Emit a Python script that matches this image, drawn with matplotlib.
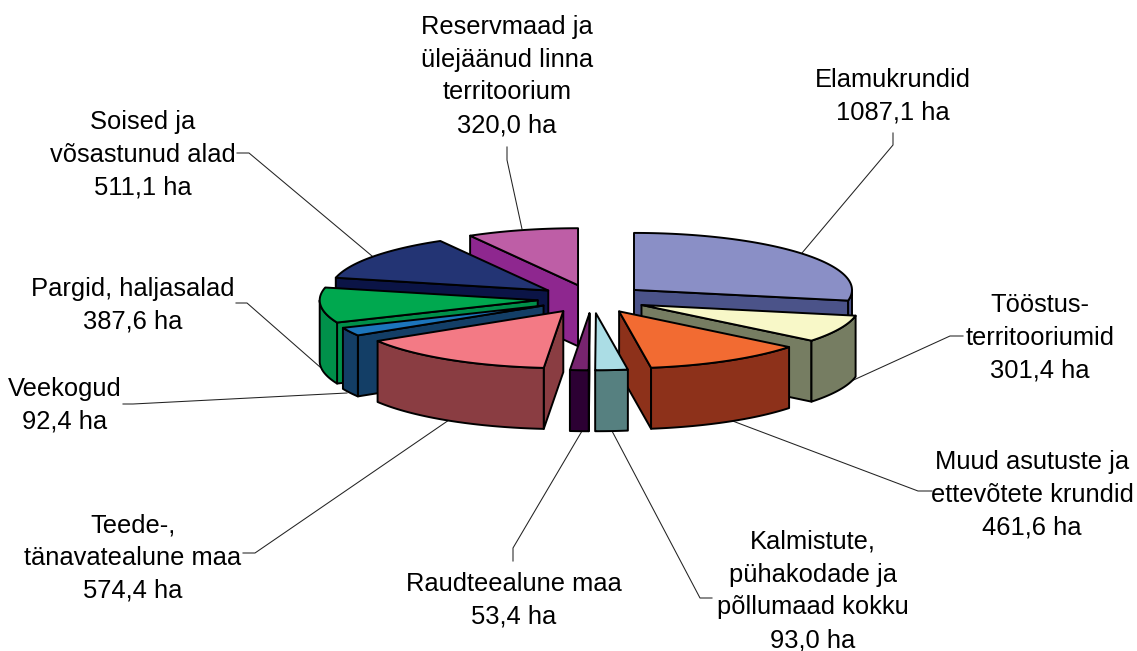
import numpy as np
import matplotlib
matplotlib.use('Agg')
import matplotlib.pyplot as plt
from matplotlib.patches import Polygon

plt.rcParams['font.family'] = ['Liberation Sans', 'DejaVu Sans']

# andmed (ha)
names = ['Elamukrundid', 'Tööstus-\nterritooriumid', 'Muud asutuste ja\nettevõtete krundid',
         'Kalmistute,\npühakodade ja\npõllumaad kokku', 'Raudteealune maa',
         'Teede-,\ntänavatealune maa', 'Veekogud', 'Pargid, haljasalad',
         'Soised ja\nvõsastunud alad', 'Reservmaad ja\nülejäänud linna\nterritoorium']
values = [1087.1, 301.4, 461.6, 93.0, 53.4, 574.4, 92.4, 387.6, 511.1, 320.0]

top_colors = ['#8A8FC6', '#F8F8C8', '#F26B32', '#ABDDE5', '#77246F',
              '#F37A85', '#1C75BC', '#00A84F', '#233474', '#BE5EA6']
side_colors = ['#4B5389', '#767D62', '#8D311A', '#568080', '#2C0033',
               '#8A3D42', '#133E66', '#00904A', '#0B1446', '#8E278F']

# sildi keskpunktid ja juhtjooned (pikslites)
label_xy = [(893, 96), (1040, 338), (1032, 495), (813, 591), (514, 600),
            (133, 558), (65, 405), (133, 305), (143, 155), (507, 76)]
leaders = [
    [(802, 253), (893, 145), (893, 133)],
    [(847, 383), (950, 336), (963, 336)],
    [(730, 420), (918, 491), (932, 491)],
    [(612, 431), (700, 598), (712, 598)],
    [(582, 431), (513, 548), (513, 561)],
    [(449, 420), (255, 553), (243, 553)],
    [(347, 393), (133, 404), (123, 404)],
    [(320, 367), (247, 303), (236, 303)],
    [(372, 256), (249, 153), (237, 153)],
    [(522, 229), (507, 160), (507, 147)],
]

# pirukas
CX, CY = 592, 299
RX, RY = 218, 57
DEPTH = 61
EXPLODE = 0.25

fig = plt.figure(figsize=(11.37, 6.51), dpi=100, facecolor='white')
ax = fig.add_axes([0, 0, 1, 1])
ax.set_xlim(0, 1137)
ax.set_ylim(651, 0)
ax.axis('off')

angles = np.cumsum([0] + values) / sum(values) * 360


def face(pts, color, z):
    ax.add_patch(Polygon(pts, closed=True, facecolor=color, edgecolor='black',
                         linewidth=1.4, joinstyle='round', zorder=z))


# tagumised viilud enne, eesmised hiljem
mids = (angles[:-1] + angles[1:]) / 2
order = np.argsort(-np.cos(np.radians(mids)))

for n, i in enumerate(order):
    a1, a2 = angles[i], angles[i + 1]
    ax0 = CX + EXPLODE * RX * np.sin(np.radians(mids[i]))
    ay0 = CY - EXPLODE * RY * np.cos(np.radians(mids[i]))

    def rim(a):
        r = np.radians(a)
        return np.column_stack([ax0 + RX * np.sin(r), ay0 - RY * np.cos(r)])

    z = 2 + n
    p1 = rim(np.array([a1]))[0]
    p2 = rim(np.array([a2]))[0]
    # ainult vaataja poole jäävad lõikepinnad
    if np.sin(np.radians(a1)) < 0:
        face([(ax0, ay0), p1, p1 + (0, DEPTH), (ax0, ay0 + DEPTH)], side_colors[i], z)
    if np.sin(np.radians(a2)) > 0:
        face([(ax0, ay0), p2, p2 + (0, DEPTH), (ax0, ay0 + DEPTH)], side_colors[i], z)
    lo, hi = max(a1, 90), min(a2, 270)
    if lo < hi:
        arc = rim(np.linspace(lo, hi, 60))
        face(np.vstack([arc, (arc + (0, DEPTH))[::-1]]), side_colors[i], z)
    top = rim(np.linspace(a1, a2, 80))
    face(np.vstack([[(ax0, ay0)], top]), top_colors[i], z)

for name, v, (x, y), line in zip(names, values, label_xy, leaders):
    txt = name + '\n' + f'{v:.1f}'.replace('.', ',') + ' ha'
    ax.text(x, y, txt, ha='center', va='center', fontsize=18.4, color='black',
            linespacing=1.46, zorder=30)
    ax.plot(*zip(*line), color='#222222', linewidth=0.75, zorder=1)

plt.savefig('out.png', dpi=100, facecolor='white')
